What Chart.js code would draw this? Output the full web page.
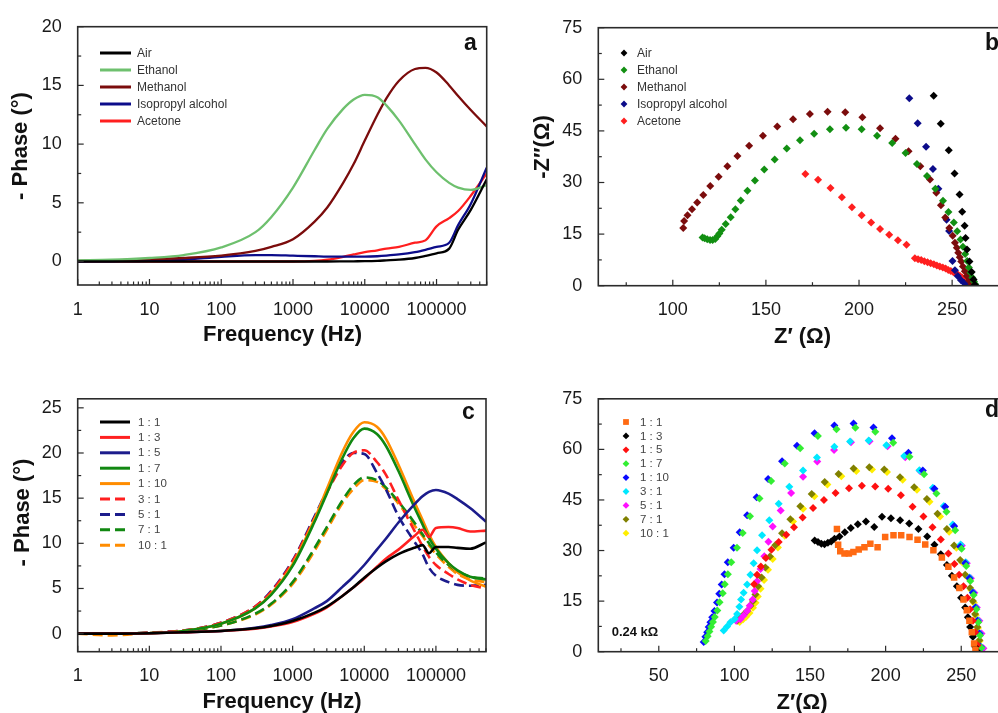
<!DOCTYPE html>
<html><head><meta charset="utf-8">
<script src="https://cdn.jsdelivr.net/npm/chart.js@4.4.1/dist/chart.umd.min.js"></script>
<style>
html,body{margin:0;padding:0;background:#fff;overflow:hidden;width:998px;height:713px;position:relative}
canvas{position:absolute}
</style></head><body>
<canvas id="ca" width="500" height="360" style="left:0px;top:0px"></canvas>
<canvas id="cb" width="520" height="360" style="left:500px;top:0px"></canvas>
<canvas id="cc" width="500" height="333" style="left:0px;top:380px"></canvas>
<canvas id="cd" width="520" height="333" style="left:500px;top:380px"></canvas>
<script>
// ---------- tick labels ----------
const freqTicks = [1, 10, 100, 1000, 10000, 100000];
const phaseTicksA = [0, 5, 10, 15, 20];
const phaseTicksC = [0, 5, 10, 15, 20, 25];
const zImTicks = [0, 15, 30, 45, 60, 75];
const zReTicksB = [100, 150, 200, 250];
const zReTicksD = [50, 100, 150, 200, 250];

// ---------- panel a : phase vs frequency (solvents) ----------
const labelsA = ['Air', 'Ethanol', 'Methanol', 'Isopropyl alcohol', 'Acetone'];
const freqA = [1, 3, 10, 30, 100, 300, 500, 1000, 2000, 3000, 5000, 7000, 10000, 15000, 20000, 30000, 50000, 70000, 100000, 150000, 200000, 300000, 500000];
const aAir      = [0, 0, 0, 0, 0, 0, 0, 0, 0, 0, 0.01, 0.02, 0.03, 0.06, 0.1, 0.16, 0.3, 0.48, 0.7, 1.1, 2.7, 4.4, 7.0];
const aEthanol  = [0.1, 0.15, 0.3, 0.55, 1.2, 2.5, 3.8, 6.3, 9.5, 11.3, 13.0, 13.8, 14.2, 14.0, 13.3, 12.0, 10.0, 8.7, 7.6, 6.7, 6.3, 6.1, 6.5];
const aMethanol = [0.05, 0.1, 0.2, 0.3, 0.5, 0.9, 1.25, 1.9, 3.4, 4.6, 6.7, 8.3, 10.3, 12.5, 13.9, 15.4, 16.4, 16.5, 16.1, 15.0, 14.1, 12.9, 11.5];
const aIso      = [0, 0.02, 0.05, 0.15, 0.4, 0.55, 0.55, 0.5, 0.45, 0.42, 0.42, 0.42, 0.42, 0.45, 0.5, 0.6, 0.8, 1.0, 1.25, 1.6, 3.1, 4.9, 8.0];
const aAcetone  = [0, 0, 0, 0, 0, 0, 0, 0, 0.05, 0.15, 0.4, 0.6, 0.8, 0.95, 1.1, 1.25, 1.6, 1.8, 3.0, 3.7, 4.3, 5.6, 7.5];

// ---------- panel b : Nyquist (solvents) ----------
const bAirX = [240.1, 243.9, 248.2, 251.3, 254, 255.4, 256.7, 257.2, 258, 259.3, 260.5, 261.5, 262.2];
const bAirY = [55.2, 47.1, 39.4, 32.6, 26.5, 21.5, 17.4, 13.9, 10.5, 7, 4, 1.8, 0.3];
const bEthX = [116, 117.1, 118.5, 120, 121.4, 122.8, 123.9, 125, 126.3, 128.4, 131.1, 133.6, 136.5, 140.1, 144.1, 149.1, 154.7, 161.2, 168.3, 175.9, 184.4, 193, 201.4, 209.7, 217.8, 225, 231.1, 236.5, 241, 245.1, 248, 250.9, 252.7, 254.5, 255.8, 257, 258.1, 259, 259.9, 260.8, 261.7, 262.4];
const bEthY = [14.0, 13.8, 13.5, 13.3, 13.3, 13.6, 14.4, 15.2, 16.3, 17.9, 19.9, 22.2, 24.8, 27.6, 30.6, 33.8, 36.7, 39.9, 42.3, 44.2, 45.5, 45.9, 45.5, 43.6, 41.5, 38.6, 35.4, 31.9, 28.2, 24.7, 21.4, 18.4, 15.8, 13.4, 11.3, 9.2, 7.2, 5.3, 3.8, 2.4, 1.2, 0.4];
const bMetX = [105.6, 106.1, 107.9, 110.3, 113.1, 116.4, 120.1, 124.6, 129.3, 134.7, 141, 148.4, 156.1, 164.6, 173.6, 183.1, 192.6, 201.8, 211.3, 219.6, 226.6, 232.9, 238.1, 241.5, 244, 246.3, 248.5, 250.3, 251.5, 252.5, 253.3, 254.1, 254.9, 255.8, 256.8, 257.9, 259.1, 260.4];
const bMetY = [16.8, 18.8, 20.5, 22.2, 24.2, 26.4, 29, 31.7, 34.7, 37.7, 40.7, 43.6, 46.3, 48.4, 49.9, 50.6, 50.4, 49, 45.8, 42.7, 39.1, 34.7, 30.9, 27, 23.4, 19.8, 16.8, 14.5, 12.5, 11.0, 9.6, 8.3, 7.0, 5.6, 4.2, 2.8, 1.5, 0.5];
const bIsoX = [227, 231.5, 236, 239.7, 242.6, 247, 248.4, 250.2, 251.5, 253, 254.8, 256.5, 258];
const bIsoY = [54.5, 47.2, 40.4, 33.9, 28.2, 19.2, 15.9, 7.2, 4.5, 2.8, 1.6, 0.8, 0.2];
const bAceX = [171.2, 178, 184.7, 190.8, 196.2, 201.4, 206.5, 211.3, 216.2, 220.9, 225.5, 230, 231.7, 233.4, 235.1, 236.8, 238.5, 240.2, 241.8, 243.4, 245, 246.5, 247.9, 249.3, 250.7, 252, 253.2, 254.3, 255.4, 256.5, 257.6, 258.6, 259.5, 260.4, 261.1, 261.8];
const bAceY = [32.5, 30.8, 28.4, 25.7, 22.8, 20.5, 18.4, 16.5, 14.8, 13.2, 11.9, 8.0, 7.7, 7.5, 7.1, 6.8, 6.5, 6.2, 5.9, 5.6, 5.3, 5.0, 4.6, 4.3, 3.9, 3.6, 3.2, 2.8, 2.4, 2.0, 1.7, 1.4, 1.0, 0.7, 0.4, 0.2];

// ---------- panel c : phase vs frequency (ratios) ----------
const labelsRatio = ['1 : 1', '1 : 3', '1 : 5', '1 : 7', '1 : 10', '3 : 1', '5 : 1', '7 : 1', '10 : 1'];
const freqC = [1, 3, 10, 30, 100, 300, 500, 1000, 2000, 3000, 5000, 7000, 10000, 15000, 20000, 30000, 50000, 65000, 80000, 100000, 150000, 200000, 300000, 500000];
const c1to1  = [0, 0, 0.05, 0.15, 0.3, 0.6, 0.85, 1.4, 2.3, 3.0, 4.2, 5.1, 6.2, 7.3, 8.0, 8.8, 9.5, 9.8, 8.9, 9.6, 9.6, 9.5, 9.4, 10.1];
const c1to3  = [0, 0, 0.05, 0.15, 0.3, 0.55, 0.8, 1.3, 2.2, 2.9, 4.2, 5.1, 6.1, 7.4, 8.3, 9.3, 10.8, 11.5, 10.7, 11.7, 11.8, 11.7, 11.3, 11.4];
const c1to5  = [0, 0, 0.05, 0.15, 0.3, 0.65, 0.95, 1.6, 2.8, 3.6, 5.2, 6.3, 7.6, 9.3, 10.5, 12.3, 14.3, 15.2, 15.7, 15.9, 15.5, 14.9, 13.9, 12.4];
const c1to7  = [0, 0, 0.05, 0.3, 1.1, 2.8, 4.3, 7.5, 12.3, 15.5, 19.5, 21.6, 22.7, 22.1, 20.8, 18.0, 14.0, 12.1, 10.6, 9.4, 7.8, 7.0, 6.3, 6.0];
const c1to10 = [0, 0, 0.05, 0.3, 1.1, 2.8, 4.4, 7.7, 12.6, 16.0, 20.2, 22.3, 23.4, 22.9, 21.6, 18.7, 14.6, 12.6, 11.0, 9.6, 7.8, 6.8, 5.9, 5.2];
const c3to1  = [0, 0, 0.1, 0.35, 1.2, 3.0, 4.6, 8.0, 12.7, 15.6, 18.7, 20.0, 20.3, 19.0, 17.6, 14.8, 11.4, 9.7, 8.5, 7.6, 6.6, 6.0, 5.4, 5.0];
const c5to1  = [0, 0, 0.1, 0.35, 1.2, 3.0, 4.7, 8.1, 12.9, 15.8, 19.0, 20.0, 19.9, 17.8, 16.0, 13.0, 10.2, 8.8, 7.3, 6.4, 5.7, 5.4, 5.3, 5.4];
const c7to1  = [0, 0, 0.1, 0.3, 0.9, 2.2, 3.3, 5.7, 9.4, 11.8, 14.8, 16.4, 17.3, 17.0, 16.2, 14.6, 12.3, 11.0, 10.0, 9.0, 7.6, 6.9, 6.3, 6.1];
const c10to1 = [0, -0.2, 0.1, 0.3, 0.9, 2.1, 3.2, 5.5, 9.1, 11.5, 14.5, 16.0, 17.0, 16.8, 16.0, 14.4, 12.0, 10.8, 9.8, 8.8, 7.4, 6.6, 6.0, 5.7];

// ---------- panel d : Nyquist (ratios) ----------
const d1to1X = [167.8, 168.6, 170, 172.8, 175.7, 178.7, 182.2, 186, 189.9, 194.7, 199.7, 205.2, 210.3, 215.8, 221.1, 226.2, 231.6, 237.2, 241.5, 245.3, 248.8, 251.5, 253.7, 255.4, 257, 258.5, 259.4];
const d1to1Y = [36.4, 31.7, 29.8, 29.1, 29.1, 29.6, 30.3, 31, 32, 31, 34, 34.5, 34.5, 34, 33.2, 31.8, 30.1, 27.9, 25.2, 22, 18.9, 15.5, 12.3, 9.2, 5.8, 2.4, 0.5];
const d1to3X = [153.1, 155.3, 157.5, 159.6, 161.8, 164, 166.2, 169.5, 173, 177, 181.6, 187, 192.5, 197.6, 203.5, 209.6, 215.6, 221.7, 227.5, 232.3, 236.5, 240.5, 243.8, 247.1, 249.9, 252.6, 254.4, 255.9, 257.7, 259.2, 260.3];
const d1to3Y = [33, 32.5, 32, 31.9, 32.3, 32.7, 33.5, 34.2, 35.4, 36.7, 37.8, 38.6, 37, 40, 39.6, 39, 38, 36.4, 34.2, 31.7, 28.9, 25.7, 22.5, 19.4, 16, 13.1, 10.2, 7.3, 4.4, 1.5, 0.2];
const d1to5X = [113, 115, 117.5, 120.8, 124.5, 129.3, 134.3, 139.4, 145.1, 152, 159.2, 166.9, 175.8, 184.3, 193.1, 201.7, 210.1, 217.8, 225, 231, 236.5, 241.5, 245.5, 248.6, 251.5, 254.1, 255.9, 257.7, 259.2, 260.7];
const d1to5Y = [20, 22.8, 25.3, 27.8, 30.2, 32.5, 34.7, 36.9, 39.8, 42.6, 45, 47.1, 48.5, 49.2, 49, 48.3, 46.4, 43, 40.1, 36.9, 33.3, 29.1, 26, 22.8, 19.4, 16, 12.6, 9.2, 5.8, 1.9];
const d1to7X = [81, 82.3, 83.5, 84.6, 85.8, 87, 88.7, 90.2, 92.3, 93.6, 95.7, 97.9, 101.7, 105.5, 110.3, 116.6, 124.3, 133.3, 143.5, 155.2, 167.5, 180, 193.2, 205, 215.8, 225.4, 233.6, 240.2, 246, 250.2, 253.3, 256, 258.2, 260, 261.3, 262.4, 263.3];
const d1to7Y = [3.2, 4.6, 6, 7.4, 8.8, 10.3, 12.2, 14.7, 17.3, 20, 23, 26.5, 30.8, 35.2, 40.2, 45.4, 50.6, 55.8, 60.3, 64, 66, 66.4, 65.2, 62, 57.8, 52.6, 46.9, 41.5, 36, 30.5, 25.4, 21, 16.8, 12.6, 8.7, 4.8, 1.2];
const d1to10X = [79.7, 80.8, 82, 83, 84.1, 85.3, 86.8, 88.5, 90, 91.6, 93.4, 95.6, 99.5, 103.5, 108.4, 114.7, 122.3, 131.5, 141.4, 153, 166.1, 178.8, 192, 204.2, 215.1, 224.6, 232.3, 239.4, 245.3, 249.3, 252.6, 255.4, 257.7, 259.4, 260.7, 262, 262.9];
const d1to10Y = [2.9, 4.4, 5.8, 7.3, 8.7, 10.2, 12.1, 14.6, 17.2, 19.9, 23, 26.5, 30.8, 35.4, 40.5, 45.8, 51.2, 56.5, 61.1, 64.8, 67.1, 67.7, 66.5, 63.3, 59, 53.7, 48.3, 43, 37.2, 31.1, 26.2, 21.8, 17.5, 13.1, 9.2, 5.4, 1.5];
const d3to1X = [92.9, 95.2, 97.4, 100.2, 101.8, 103.3, 104.4, 106.1, 108.4, 110.6, 112.7, 115, 118.3, 123.1, 129.3, 136.3, 145.4, 154.6, 166.1, 176.5, 188.8, 200.5, 212.3, 222.3, 231.2, 238.5, 244.4, 249.6, 253, 255.6, 257.8, 259.5, 261, 262.3, 263.5];
const d3to1Y = [6.3, 7.5, 8.7, 9.7, 11.2, 13.3, 15.5, 17.5, 19.9, 22.8, 26.2, 30.1, 34.5, 39, 43.9, 48.9, 53.7, 57.6, 60.8, 62.3, 62.6, 61.2, 58, 53.8, 48.6, 43.2, 37.7, 31.8, 26.5, 22, 17.6, 13.2, 9.3, 5.4, 1.2];
const d5to1X = [101.1, 104, 106.1, 108.4, 110.1, 112.1, 113.4, 115, 117.3, 119.8, 122.5, 125.3, 130.6, 137.5, 145.4, 154.8, 165.9, 177.1, 189.4, 201.3, 213, 222.9, 231.8, 239.1, 245, 250.4, 253.7, 256.4, 258.7, 260.3, 262, 263.4, 264.7];
const d5to1Y = [9.2, 9.6, 10.7, 12.1, 13.6, 15.5, 18, 20.9, 24.5, 28.3, 32.6, 37.1, 41.9, 47.1, 51.9, 56.4, 59.8, 62.1, 62.4, 60.9, 57.7, 53.5, 48.3, 42.9, 37.4, 31.5, 26.2, 21.8, 17.5, 13.1, 9.2, 5.4, 1];
const d7to1X = [101.8, 104, 106.1, 108.4, 110.6, 112.3, 113.9, 115.7, 118, 120.5, 123.5, 127, 131.5, 137, 143.6, 151.1, 159.7, 168.9, 178.8, 189.2, 199.1, 209.5, 218.9, 227.3, 234.3, 240.5, 245.3, 249.3, 252.6, 255.9, 257.7, 259.2, 260.7, 262, 262.9];
const d7to1Y = [9.2, 10.2, 11, 12.1, 13.6, 15, 17, 19.4, 22, 25, 28.2, 31.6, 35.1, 39.3, 43.1, 46.8, 50.3, 52.7, 54.3, 54.7, 54, 51.7, 48.8, 45.3, 40.9, 36.4, 31.5, 27.2, 22.8, 18.9, 15, 11.2, 7.3, 3.4, 0.5];
const d10to1X = [103.5, 105.8, 107.8, 110, 112.3, 114, 115.5, 117.3, 119.6, 122.2, 125.3, 128.8, 133.3, 138.8, 145.4, 152.9, 161.5, 170.7, 180.6, 191, 200.9, 211.3, 220.7, 229, 236, 242, 246.8, 250.6, 253.9, 256.6, 258.3, 259.6, 261, 262.2, 263];
const d10to1Y = [8.8, 9.6, 10.4, 11.5, 13, 14.5, 16.4, 18.7, 21.3, 24.3, 27.5, 30.9, 34.4, 38.6, 42.4, 46.1, 49.6, 52, 53.6, 54, 53.3, 51, 48, 44.5, 40.1, 35.6, 30.8, 26.5, 22.2, 18.3, 14.5, 10.8, 7, 3.2, 0.5];

// ---------- helpers ----------
const FAM = "'Liberation Sans', Arial, Helvetica, sans-serif";
const tickFont = { family: FAM, size: 18 };

function pairs(xs, ys) { return xs.map((x, i) => ({ x: x, y: ys[i] })); }
function lineDS(label, xs, ys, color, dash, w) {
  return { label, data: pairs(xs, ys), borderColor: color, backgroundColor: color,
    borderWidth: w, borderDash: dash || [], pointRadius: 0, pointHoverRadius: 0,
    cubicInterpolationMode: 'monotone', fill: false };
}
function ptDS(label, xs, ys, color, style, r) {
  return { label, data: pairs(xs, ys), borderColor: color, backgroundColor: color,
    pointStyle: style, pointRadius: r, pointHoverRadius: r, borderWidth: 0, showLine: false };
}
function minorLinear(majors, min, max) {
  const half = (majors[1] - majors[0]) / 2, out = [];
  for (let k = Math.ceil(min / half); k * half <= max + 1e-9; k++) {
    const v = k * half;
    if (Math.abs((v / (2 * half)) - Math.round(v / (2 * half))) > 1e-6) out.push(v);
  }
  return out;
}
function minorLog(min, max) {
  const out = [];
  for (let d = 1; d <= max; d *= 10) for (let k = 2; k <= 9; k++) { const v = k * d; if (v >= min && v <= max) out.push(v); }
  return out;
}
function xLog(h) {
  return { type: 'logarithmic', min: 1, max: 500000, grid: { display: false }, border: { display: false },
    afterBuildTicks: s => { s.ticks = freqTicks.map(v => ({ value: v })); },
    ticks: { autoSkip: false, maxRotation: 0, minRotation: 0, padding: 6, color: '#1a1a1a', font: tickFont, callback: v => String(v) },
    afterFit: s => { s.height = h; } };
}
function xLin(min, max, list, h) {
  return { type: 'linear', min, max, grid: { display: false }, border: { display: false },
    afterBuildTicks: s => { s.ticks = list.map(v => ({ value: v })); },
    ticks: { autoSkip: false, maxRotation: 0, minRotation: 0, padding: 6, color: '#1a1a1a', font: tickFont, callback: v => String(v) },
    afterFit: s => { s.height = h; } };
}
function yLin(min, max, list, w) {
  return { type: 'linear', min, max, grid: { display: false }, border: { display: false },
    afterBuildTicks: s => { s.ticks = list.map(v => ({ value: v })); },
    ticks: { autoSkip: false, padding: 8, color: '#1a1a1a', font: tickFont, callback: v => String(v) },
    afterFit: s => { s.width = w; } };
}

const panelPlugin = {
  id: 'panel',
  afterDraw(chart) {
    const o = chart.options.plugins.panel;
    const ctx = chart.ctx, a = chart.chartArea, xs = chart.scales.x, ys = chart.scales.y;
    ctx.save();
    ctx.strokeStyle = '#2b2b2b'; ctx.lineWidth = 1.6;
    ctx.strokeRect(a.left, a.top, a.right - a.left, a.bottom - a.top);
    ctx.lineWidth = 1.2;
    const seg = (x1, y1, x2, y2) => { ctx.beginPath(); ctx.moveTo(x1, y1); ctx.lineTo(x2, y2); ctx.stroke(); };
    o.xMajor.forEach(v => { const p = xs.getPixelForValue(v); seg(p, a.bottom, p, a.bottom - 6); });
    o.xMinor.forEach(v => { const p = xs.getPixelForValue(v); seg(p, a.bottom, p, a.bottom - 3.5); });
    o.yMajor.forEach(v => { const p = ys.getPixelForValue(v); seg(a.left, p, a.left + 6, p); });
    o.yMinor.forEach(v => { const p = ys.getPixelForValue(v); seg(a.left, p, a.left + 3.5, p); });
    // legend
    const L = o.legend;
    ctx.font = L.size + 'px ' + FAM; ctx.textAlign = 'left'; ctx.textBaseline = 'middle';
    chart.data.datasets.forEach((ds, i) => {
      const y = L.y0 + i * L.dy;
      if (L.kind === 'line') {
        ctx.strokeStyle = ds.borderColor; ctx.lineWidth = 3; ctx.setLineDash(ds.borderDash || []);
        seg(L.x0, y, L.x1, y); ctx.setLineDash([]);
      } else {
        ctx.fillStyle = ds.backgroundColor;
        const r = L.r, cx = L.cx;
        ctx.beginPath();
        if (ds.pointStyle === 'rect') { const s = r * 0.85; ctx.rect(cx - s, y - s, 2 * s, 2 * s); }
        else { ctx.moveTo(cx - r, y); ctx.lineTo(cx, y - r); ctx.lineTo(cx + r, y); ctx.lineTo(cx, y + r); ctx.closePath(); }
        ctx.fill();
      }
      ctx.fillStyle = L.color; ctx.fillText(ds.label, L.tx, y + 0.5);
    });
    // panel letter
    ctx.fillStyle = '#111'; ctx.font = 'bold 23px ' + FAM; ctx.textBaseline = 'alphabetic'; ctx.textAlign = 'left';
    ctx.fillText(o.letter.text, o.letter.x, o.letter.y);
    // titles and notes
    (o.texts || []).forEach(t => {
      ctx.save(); ctx.translate(t.x, t.y); if (t.rot) ctx.rotate(-Math.PI / 2);
      ctx.font = t.font; ctx.fillStyle = '#111'; ctx.textAlign = t.align || 'center'; ctx.textBaseline = 'middle';
      ctx.fillText(t.text, 0, 0); ctx.restore();
    });
    ctx.restore();
  }
};

const baseOpts = (pad) => ({
  responsive: false, animation: false, devicePixelRatio: 1,
  layout: { padding: pad },
  events: []
});
const titleFont = 'bold 22px ' + FAM;

// ---------- chart a ----------
new Chart(document.getElementById('ca'), {
  type: 'line',
  data: { datasets: [
    lineDS(labelsA[0], freqA, aAir, '#000000', null, 2.3),
    lineDS(labelsA[1], freqA, aEthanol, '#6ec06e', null, 2.3),
    lineDS(labelsA[2], freqA, aMethanol, '#7b0c0c', null, 2.3),
    lineDS(labelsA[3], freqA, aIso, '#0c0c8a', null, 2.3),
    lineDS(labelsA[4], freqA, aAcetone, '#ff1f1f', null, 2.3)
  ] },
  options: Object.assign(baseOpts({ top: 26.7, right: 13.3, left: 0, bottom: 0 }), {
    scales: { x: xLog(75), y: yLin(-2, 20, phaseTicksA, 77.7) },
    plugins: { legend: { display: false }, tooltip: { enabled: false },
      panel: { xMajor: freqTicks, xMinor: minorLog(1, 500000), yMajor: phaseTicksA, yMinor: minorLinear(phaseTicksA, -2, 20),
        legend: { kind: 'line', x0: 100, x1: 131, tx: 137, y0: 53, dy: 17, size: 12, color: '#333' },
        letter: { text: 'a', x: 464, y: 50 },
        texts: [ { text: '- Phase (°)', x: 21, y: 146, rot: true, font: titleFont },
                 { text: 'Frequency (Hz)', x: 282.5, y: 335, font: titleFont } ] } }
  }),
  plugins: [panelPlugin]
});

// ---------- chart b ----------
new Chart(document.getElementById('cb'), {
  type: 'scatter',
  data: { datasets: [
    ptDS(labelsA[0], bAirX, bAirY, '#000000', 'rectRot', 4),
    ptDS(labelsA[1], bEthX, bEthY, '#128f12', 'rectRot', 4),
    ptDS(labelsA[2], bMetX, bMetY, '#7b0c0c', 'rectRot', 4),
    ptDS(labelsA[3], bIsoX, bIsoY, '#0c0c8a', 'rectRot', 4),
    ptDS(labelsA[4], bAceX, bAceY, '#ff1f1f', 'rectRot', 4)
  ] },
  options: Object.assign(baseOpts({ top: 27.7, right: 12, left: 0, bottom: 0 }), {
    scales: { x: xLin(60, 280, zReTicksB, 74.3), y: yLin(0, 75, zImTicks, 98.3) },
    plugins: { legend: { display: false }, tooltip: { enabled: false },
      panel: { xMajor: zReTicksB, xMinor: minorLinear(zReTicksB, 60, 280), yMajor: zImTicks, yMinor: minorLinear(zImTicks, 0, 75),
        legend: { kind: 'point', cx: 124, r: 3.4, tx: 137, y0: 53, dy: 17, size: 12, color: '#333' },
        letter: { text: 'b', x: 485, y: 50 },
        texts: [ { text: '-Z\u2033(\u03A9)', x: 42.5, y: 147, rot: true, font: titleFont },
                 { text: 'Z\u2032 (\u03A9)', x: 302.5, y: 337, font: titleFont } ] } }
  }),
  plugins: [panelPlugin]
});

// ---------- chart c ----------
const dashC = [10, 5];
new Chart(document.getElementById('cc'), {
  type: 'line',
  data: { datasets: [
    lineDS(labelsRatio[0], freqC, c1to1, '#000000', null, 2.6),
    lineDS(labelsRatio[1], freqC, c1to3, '#ff2020', null, 2.6),
    lineDS(labelsRatio[2], freqC, c1to5, '#1c1c8c', null, 2.6),
    lineDS(labelsRatio[3], freqC, c1to7, '#118811', null, 2.6),
    lineDS(labelsRatio[4], freqC, c1to10, '#ff8c00', null, 2.6),
    lineDS(labelsRatio[5], freqC, c3to1, '#ff2020', dashC, 2.6),
    lineDS(labelsRatio[6], freqC, c5to1, '#1c1c8c', dashC, 2.6),
    lineDS(labelsRatio[7], freqC, c7to1, '#118811', dashC, 2.6),
    lineDS(labelsRatio[8], freqC, c10to1, '#ff8c00', dashC, 2.6)
  ] },
  options: Object.assign(baseOpts({ top: 14, right: 14, left: 0, bottom: 0 }), {
    scales: { x: xLog(61.3), y: yLin(-2, 26, phaseTicksC, 77.7) },
    plugins: { legend: { display: false }, tooltip: { enabled: false },
      panel: { xMajor: freqTicks, xMinor: minorLog(1, 500000), yMajor: phaseTicksC, yMinor: minorLinear(phaseTicksC, -2, 26),
        legend: { kind: 'line', x0: 100, x1: 130, tx: 138, y0: 42, dy: 15.4, size: 11.5, color: '#444' },
        letter: { text: 'c', x: 462, y: 38.5 },
        texts: [ { text: '- Phase (°)', x: 22.5, y: 132.5, rot: true, font: titleFont },
                 { text: 'Frequency (Hz)', x: 282, y: 322, font: titleFont } ] } }
  }),
  plugins: [panelPlugin]
});

// ---------- chart d ----------
new Chart(document.getElementById('cd'), {
  type: 'scatter',
  data: { datasets: [
    ptDS(labelsRatio[0], d1to1X, d1to1Y, '#ff6a13', 'rect', 4.6),
    ptDS(labelsRatio[1], d1to3X, d1to3Y, '#000000', 'rectRot', 4),
    ptDS(labelsRatio[2], d1to5X, d1to5Y, '#ff1010', 'rectRot', 4),
    ptDS(labelsRatio[3], d1to7X, d1to7Y, '#33ee33', 'rectRot', 4),
    ptDS(labelsRatio[4], d1to10X, d1to10Y, '#0a0aff', 'rectRot', 4),
    ptDS(labelsRatio[5], d3to1X, d3to1Y, '#00e8ff', 'rectRot', 4),
    ptDS(labelsRatio[6], d5to1X, d5to1Y, '#ff10ff', 'rectRot', 4),
    ptDS(labelsRatio[7], d7to1X, d7to1Y, '#808000', 'rectRot', 4),
    ptDS(labelsRatio[8], d10to1X, d10to1Y, '#ffee00', 'rectRot', 4)
  ] },
  options: Object.assign(baseOpts({ top: 14, right: 13.4, left: 0, bottom: 0 }), {
    scales: { x: xLin(10, 280, zReTicksD, 61.3), y: yLin(0, 75, zImTicks, 98.3) },
    plugins: { legend: { display: false }, tooltip: { enabled: false },
      panel: { xMajor: zReTicksD, xMinor: minorLinear(zReTicksD, 10, 280), yMajor: zImTicks, yMinor: minorLinear(zImTicks, 0, 75),
        legend: { kind: 'point', cx: 126, r: 3.4, tx: 140, y0: 42, dy: 13.9, size: 11.5, color: '#444' },
        letter: { text: 'd', x: 485, y: 37 },
        texts: [ { text: 'Z\u2032(\u03A9)', x: 302, y: 323, font: titleFont },
                 { text: '0.24 k\u03A9', x: 111.7, y: 252, align: 'left', font: 'bold 13px ' + FAM } ] } }
  }),
  plugins: [panelPlugin]
});
</script>
</body></html>
